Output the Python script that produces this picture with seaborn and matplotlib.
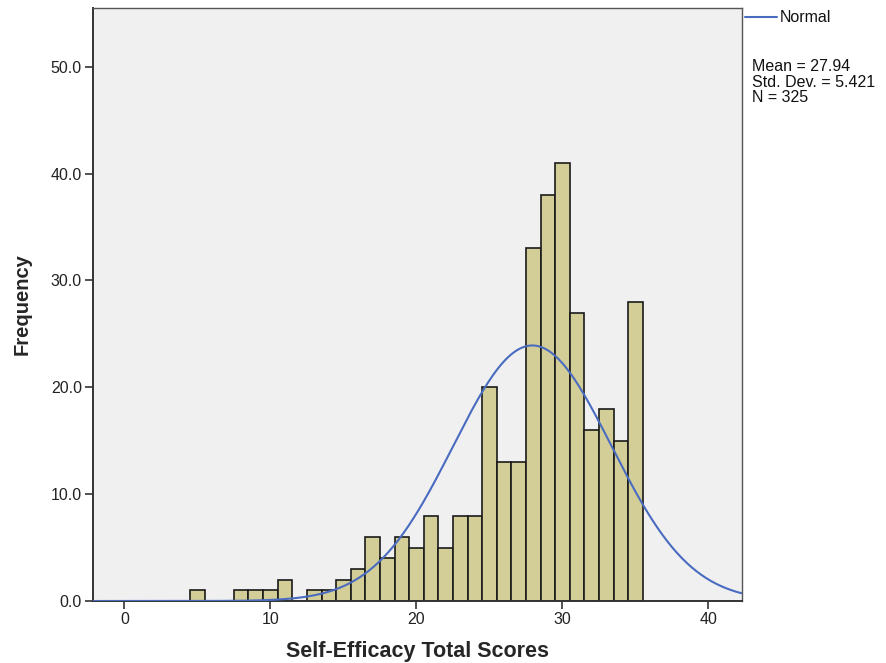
import matplotlib
matplotlib.use('Agg')
import matplotlib.pyplot as plt
import numpy as np
import pandas as pd
import seaborn as sns

# Histogram counts (bins of width 1, centred on each score)
scores = [5, 6, 7, 8, 9, 10, 11, 12, 13, 14, 15, 16, 17, 18, 19, 20,
          21, 22, 23, 24, 25, 26, 27, 28, 29, 30, 31, 32, 33, 34, 35]
counts = [1, 0, 0, 1, 1, 1, 2, 0, 1, 1, 2, 3, 6, 4, 6, 5,
          8, 5, 8, 8, 20, 13, 13, 33, 38, 41, 27, 16, 18, 15, 28]

mean = 27.94
std_dev = 5.421
n_total = 325

y_ticks = [0, 10, 20, 30, 40, 50]
x_ticks = [0, 10, 20, 30, 40]

df = pd.DataFrame({'score': scores, 'count': counts})

sns.set_style('white')
plt.rcParams['font.family'] = ['Liberation Sans', 'DejaVu Sans']

fig = plt.figure(figsize=(8.87, 6.63), dpi=100)
ax = fig.add_axes([93 / 887, 1 - 601 / 663, (742 - 93) / 887, (601 - 8) / 663])
ax.set_facecolor('#F0F0F0')

sns.histplot(data=df, x='score', weights='count', binwidth=1, binrange=(4.5, 35.5),
             color='#D3CE97', edgecolor='#1a1a1a', linewidth=1.2, alpha=1,
             ax=ax, zorder=2)

# fitted normal curve scaled to counts
xs = np.linspace(-2.2, 42.3, 400)
ys = n_total * np.exp(-0.5 * ((xs - mean) / std_dev) ** 2) / (std_dev * np.sqrt(2 * np.pi))
sns.lineplot(x=xs, y=ys, color='#4A6CC0', linewidth=1.5, ax=ax, zorder=3)

ax.set_xlim(-2.15, 42.3)
ax.set_ylim(0, 55.5)
ax.set_xticks(x_ticks)
ax.set_yticks(y_ticks)
ax.set_yticklabels([f'{v:.1f}' for v in y_ticks])
ax.tick_params(axis='both', direction='out', length=6, width=1.2, color='#333333',
               labelsize=11.5, labelcolor='#222222', left=True, bottom=True, pad=2)

for side in ['left', 'bottom']:
    ax.spines[side].set_color('#333333')
    ax.spines[side].set_linewidth(1.4)
for side in ['top', 'right']:
    ax.spines[side].set_color('#555555')
    ax.spines[side].set_linewidth(1.0)

ax.set_xlabel('Self-Efficacy Total Scores', fontsize=15.5, fontweight='bold', labelpad=10)
ax.set_ylabel('Frequency', fontsize=14.5, fontweight='bold', labelpad=14)

# legend and stats outside the plot area
fig.add_artist(plt.Line2D([745 / 887, 777 / 887], [1 - 17 / 663, 1 - 17 / 663],
                          color='#4A6CC0', linewidth=1.5))
fig.text(780 / 887, 1 - 18 / 663, 'Normal', fontsize=11.5, va='center', color='#111111')
fig.text(752 / 887, 1 - 59 / 663,
         f'Mean = {mean:.2f}\nStd. Dev. = {std_dev:.3f}\nN = {n_total}',
         fontsize=11.5, va='top', color='#111111', linespacing=1.05)

fig.savefig('out.png', dpi=100)
